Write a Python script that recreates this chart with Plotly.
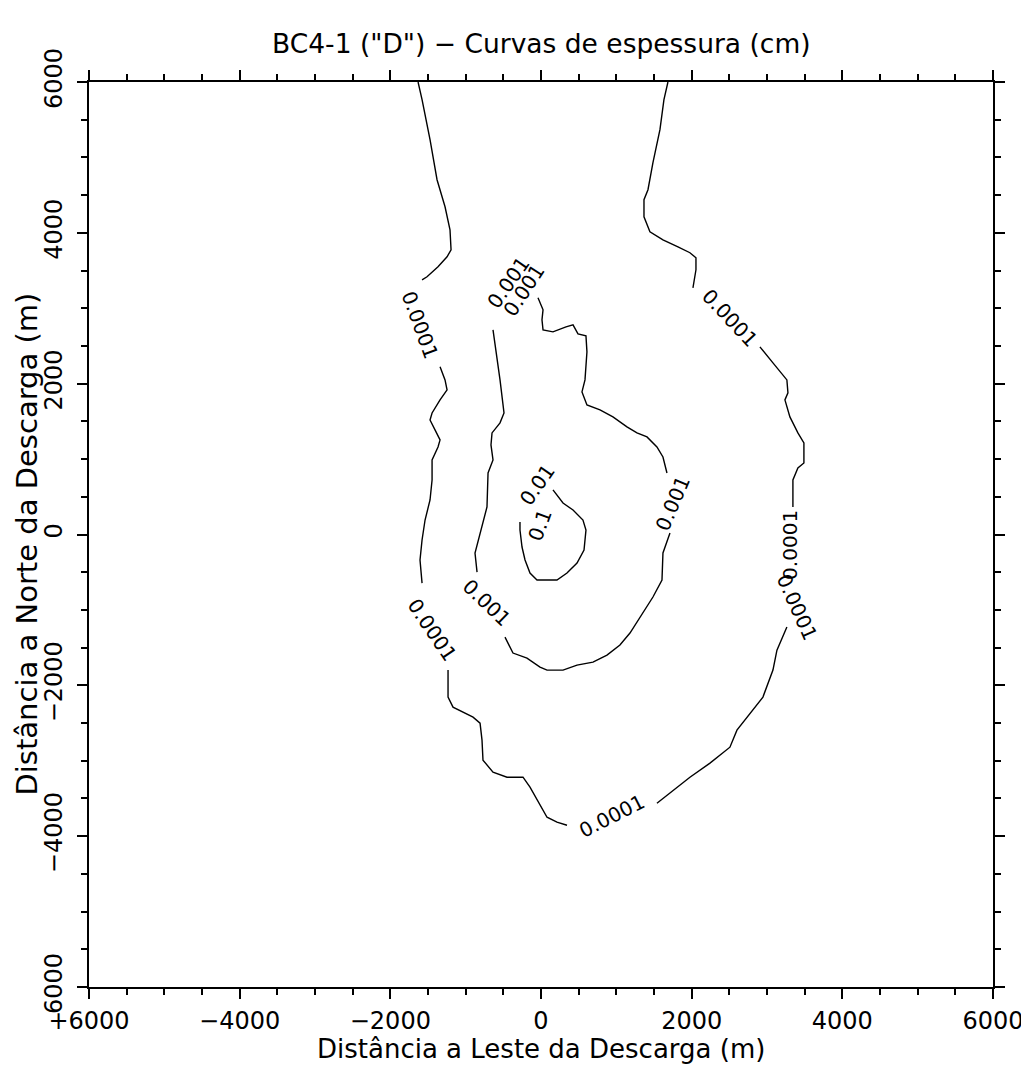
import plotly.graph_objects as go

# ---------------- data (metres) ----------------
# contour 0.0001 cm (outer), split where labels interrupt the line
c0001_a_x = [-1632, -1579, -1473, -1380, -1274, -1208, -1194, -1247, -1367, -1513, -1579]
c0001_a_y = [6000, 5766, 5235, 4704, 4346, 4041, 3775, 3682, 3550, 3417, 3377]
c0001_b_x = [-1340, -1274, -1247, -1340, -1446, -1473, -1407, -1340, -1367, -1446, -1446, -1473, -1539, -1579, -1606, -1579]
c0001_b_y = [2223, 2050, 1918, 1785, 1612, 1519, 1387, 1254, 1161, 989, 723, 458, 192, -73, -338, -644]
c0001_c_x = [-1234, -1234, -1168, -1035, -902, -809, -783, -770, -637, -451, -239, -146, -53, 80, 212, 345]
c0001_c_y = [-1798, -2156, -2289, -2355, -2422, -2501, -2727, -2992, -3152, -3218, -3218, -3351, -3523, -3749, -3815, -3855]
c0001_d_x = [1539, 1712, 1977, 2243, 2508, 2601, 2813, 2946, 3079, 3132, 3264]
c0001_d_y = [-3563, -3430, -3218, -3032, -2820, -2594, -2329, -2156, -1798, -1533, -1227]
c0001_e_x = [3344, 3344, 3344, 3410, 3490, 3490, 3410, 3304, 3238, 3278, 3264, 3079, 2906]
c0001_e_y = [365, 591, 723, 882, 949, 1214, 1347, 1559, 1785, 1878, 2050, 2276, 2488]
c0001_f_x = [2017, 2057, 2057, 1977, 1818, 1619, 1446, 1367, 1367, 1420, 1486, 1579, 1632, 1685]
c0001_f_y = [3271, 3510, 3669, 3736, 3815, 3908, 4014, 4213, 4439, 4572, 4930, 5368, 5766, 6000]

# contour 0.001 cm
c001_a_x = [-637, -584, -544, -491, -544, -650, -664, -637, -703, -717, -809, -876, -849]
c001_a_y = [2714, 2355, 2050, 1612, 1480, 1347, 1188, 989, 816, 365, 20, -245, -498]
c001_b_x = [-478, -411, -372, -186, -13, 80, 292, 478, 690, 876, 1048, 1181, 1354, 1486, 1606, 1619, 1712]
c001_b_y = [-1360, -1493, -1572, -1639, -1758, -1798, -1798, -1732, -1692, -1599, -1466, -1307, -1042, -829, -604, -245, 20]
c001_c_x = [1672, 1619, 1539, 1407, 1274, 1141, 955, 783, 610, 544, 584, 610, 597, 491, 425, 332, 159, 27, 13, 27, -40]
c001_c_y = [816, 1028, 1161, 1294, 1347, 1427, 1559, 1652, 1718, 1891, 2050, 2422, 2634, 2661, 2780, 2754, 2687, 2714, 2846, 2979, 3138]

# contour 0.01 cm
c01_a_x = [159, 292, 425, 557, 597, 571, 478, 345, 212, -53, -146, -212, -252, -279, -279]
c01_a_y = [591, 418, 325, 192, 60, -206, -378, -511, -604, -604, -511, -338, -166, 60, 166]

# contour labels
label_text = ["0.0001", "0.0001", "0.0001", "0.0001", "0.0001", "0.0001",
              "0.001", "0.001", "0.001", "0.001", "0.01", "0.1"]
label_x = [-1606, -1446, 942, 3304, 3397, 2508, -717, 1752, -438, -226, -53, -13]
label_y = [2780, -1267, -3736, -139, -962, 2873, -909, 418, 3337, 3245, 657, 126]
label_angle = [70, 56, -27, -90, 66, 47, 44, -67, -55, -57, -55, -70]

# axes
tick_vals = [-6000, -4000, -2000, 0, 2000, 4000, 6000]
x_tick_text = ["+6000", "\u22124000", "\u22122000", "0", "2000", "4000", "6000"]
y_tick_text = ["6000", "\u22124000", "\u22122000", "0", "2000", "4000", "6000"]

title_text = 'BC4-1 ("D") \u2212 Curvas de espessura (cm)'
x_title = "Distância a Leste da Descarga (m)"
y_title = "Distância a Norte da Descarga (m)"

# ---------------- figure ----------------
FONT = "DejaVu Sans"
segments = [
    (c0001_a_x, c0001_a_y), (c0001_b_x, c0001_b_y), (c0001_c_x, c0001_c_y),
    (c0001_d_x, c0001_d_y), (c0001_e_x, c0001_e_y), (c0001_f_x, c0001_f_y),
    (c001_a_x, c001_a_y), (c001_b_x, c001_b_y), (c001_c_x, c001_c_y),
    (c01_a_x, c01_a_y),
]

fig = go.Figure()
for sx, sy in segments:
    fig.add_trace(go.Scatter(x=sx, y=sy, mode="lines",
                             line=dict(color="black", width=1.4),
                             hoverinfo="skip", showlegend=False))

for t, lx, ly, la in zip(label_text, label_x, label_y, label_angle):
    fig.add_annotation(x=lx, y=ly, xref="x", yref="y", text=t, showarrow=False,
                       textangle=la, font=dict(family=FONT, size=20, color="black"))

axis_common = dict(
    range=[-6000, 6000], tickvals=tick_vals, showgrid=False, zeroline=False,
    showline=True, linecolor="black", linewidth=2, mirror="ticks",
    ticks="outside", ticklen=10, tickwidth=2, tickcolor="black",
    tickfont=dict(family=FONT, size=24, color="black"),
    automargin=False,
    minor=dict(dtick=500, ticks="outside", ticklen=6, tickwidth=2, tickcolor="black"),
)
fig.update_xaxes(**axis_common, ticktext=x_tick_text, ticklabelstandoff=1)
fig.update_yaxes(**axis_common, ticktext=y_tick_text, tickangle=-90, ticklabelstandoff=5)

fig.add_annotation(xref="paper", yref="paper", x=0.5, y=1.042, text=title_text,
                   showarrow=False, font=dict(family=FONT, size=26.5, color="black"),
                   xanchor="center", yanchor="middle")
fig.add_annotation(xref="paper", yref="paper", x=0.5, y=-0.0685, text=x_title,
                   showarrow=False, font=dict(family=FONT, size=26, color="black"),
                   xanchor="center", yanchor="middle")
fig.add_annotation(xref="paper", yref="paper", x=-0.0686, y=0.49, text=y_title,
                   showarrow=False, textangle=-90,
                   font=dict(family=FONT, size=29, color="black"),
                   xanchor="center", yanchor="middle")

# page body adds an 8 px offset, so the figure is sized to keep the plot box in place
fig.update_layout(
    width=1021, height=1063,
    margin=dict(l=81, r=36, t=74, b=84),
    paper_bgcolor="white", plot_bgcolor="white",
    showlegend=False,
)

fig.write_html("out.html")
